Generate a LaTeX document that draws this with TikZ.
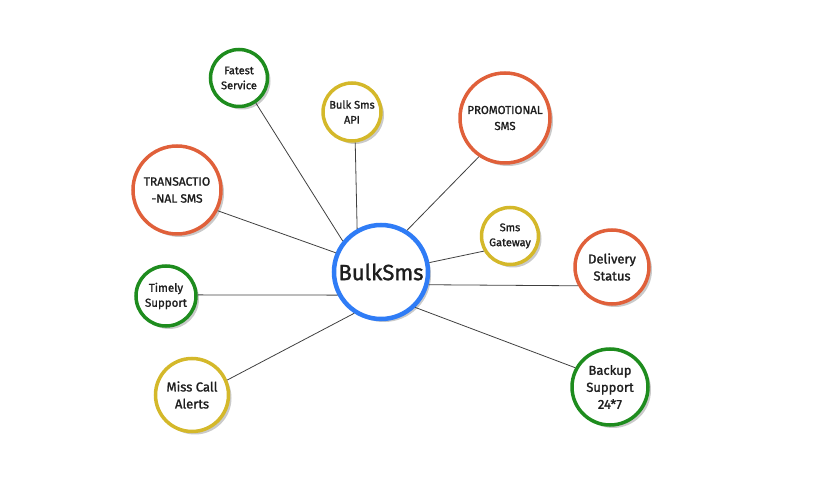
\documentclass[tikz,border=0pt]{standalone}
\usepackage{fontspec}
\setmainfont{Fira Sans}[FakeBold=1.4]
\usetikzlibrary{shadows}
\definecolor{cgreen}{HTML}{1E8C1E}
\definecolor{cyellow}{HTML}{D4B82A}
\definecolor{corange}{HTML}{E0603A}
\definecolor{cblue}{HTML}{2F7CF6}
\definecolor{ctext}{HTML}{1E1E1E}
\tikzset{
  bubble/.style={circle, draw=#1, line width=3.5pt, fill=white, inner sep=0pt,
    align=center, text=ctext, font=\bfseries,
    drop shadow={shadow xshift=3pt, shadow yshift=-3pt, opacity=0.35, fill=black!60}},
  link/.style={draw=black!75, line width=0.8pt},
}
\begin{document}
\begin{tikzpicture}[x=1pt,y=-1pt]
\useasboundingbox (0,0) rectangle (823,494);
\node[bubble=cblue, line width=4.5pt, minimum size=94pt, font=\fontsize{22}{26}\selectfont] (main) at (381,272) {BulkSms};
\node[bubble=cgreen, minimum size=57pt, font=\fontsize{11}{15}\selectfont] (fat) at (239,78) {Fatest\\Service};
\node[bubble=cyellow, minimum size=58pt, font=\fontsize{11}{15}\selectfont] (api) at (352,112) {Bulk Sms\\API};
\node[bubble=corange, minimum size=90pt, font=\fontsize{11.5}{16}\selectfont] (promo) at (505,118) {PROMOTIONAL\\SMS};
\node[bubble=corange, minimum size=88pt, font=\fontsize{12}{17}\selectfont] (trans) at (177,190) {TRANSACTIO\\-NAL SMS};
\node[bubble=cyellow, minimum size=57pt, font=\fontsize{11}{15}\selectfont] (gate) at (510,236) {Sms\\Gateway};
\node[bubble=corange, minimum size=74pt, font=\fontsize{13}{17}\selectfont] (deliv) at (612,267) {Delivery\\Status};
\node[bubble=cgreen, minimum size=60pt, font=\fontsize{11.5}{15}\selectfont] (timely) at (166,296) {Timely\\Support};
\node[bubble=cyellow, minimum size=73pt, font=\fontsize{13}{17}\selectfont] (miss) at (192,395) {Miss Call\\Alerts};
\node[bubble=cgreen, minimum size=76pt, font=\fontsize{13}{17}\selectfont] (backup) at (610,387) {Backup\\Support\\24*7};
\draw[link] (main.141) -- (fat.304);
\draw[link] (main.119) -- (api.276);
\draw[link] (main.58) -- (promo.236);
\draw[link] (main.157) -- (trans.333);
\draw[link] (main.11) -- (gate.210);
\draw[link] (main.345) -- (deliv.209);
\draw[link] (main.208) -- (timely.2);
\draw[link] (main.237) -- (miss.23);
\draw[link] (main.314) -- (backup.151);
\end{tikzpicture}
\end{document}
